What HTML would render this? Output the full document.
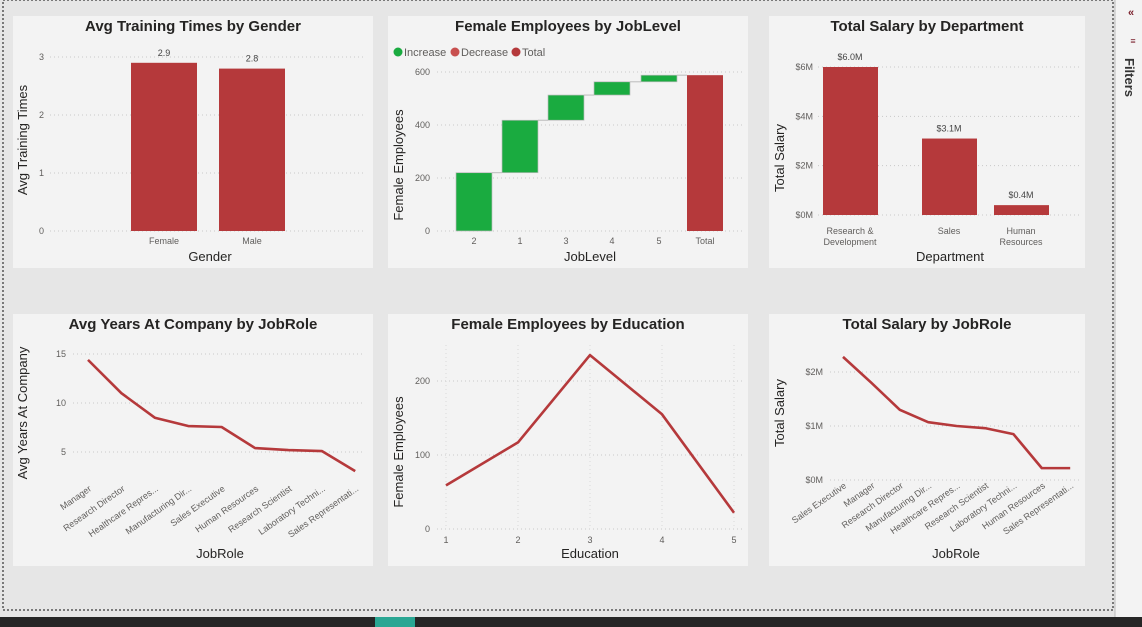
<!DOCTYPE html>
<html><head><meta charset="utf-8"><style>
body{margin:0;width:1142px;height:627px;overflow:hidden;background:#e6e6e6;font-family:"Liberation Sans",sans-serif;}
svg{position:absolute;left:0;top:0}
text{font-family:"Liberation Sans",sans-serif}
</style></head><body>
<svg id="s" width="1142" height="627">
<rect x="0" y="0" width="1142" height="627" fill="#e6e6e6"/>
<rect x="3" y="0" width="1110" height="610" fill="none" stroke="#555" stroke-width="1.5" stroke-dasharray="2,2"/>
<rect x="1115" y="0" width="27" height="617" fill="#f3f3f3"/>
<line x1="1115" y1="0" x2="1115" y2="617" stroke="#bbb"/>
<text x="1131" y="16" font-size="11" fill="#7a1f2b" text-anchor="middle" font-weight="bold">«</text>
<text x="1133" y="44" font-size="9" fill="#7a1f2b" text-anchor="middle">≡</text>
<text transform="translate(1125,58) rotate(90)" font-size="13" font-weight="bold" fill="#333">Filters</text>
<rect x="0" y="617" width="1142" height="10" fill="#262626"/>
<rect x="375" y="617" width="40" height="10" fill="#2aa693"/>
<g id="p1"><rect x="13" y="16" width="360" height="252" fill="#f3f3f3"/></g>
<g id="p2"><rect x="388" y="16" width="360" height="252" fill="#f3f3f3"/></g>
<g id="p3"><rect x="769" y="16" width="316" height="252" fill="#f3f3f3"/></g>
<g id="p4"><rect x="13" y="314" width="360" height="252" fill="#f3f3f3"/></g>
<g id="p5"><rect x="388" y="314" width="360" height="252" fill="#f3f3f3"/></g>
<g id="p6"><rect x="769" y="314" width="316" height="252" fill="#f3f3f3"/></g>
</svg>
<script>
// Chart data
const genders=["Female","Male"];
const trainingTimes=[2.9,2.8];
const trainTicks=[0,1,2,3];
const jobLevels=["2","1","3","4","5"];
const jobLevelFemale=[220,198,95,50,25];
const jlTicks=[0,200,400,600];
const departments=[["Research &","Development"],["Sales"],["Human","Resources"]];
const deptSalary=[6.0,3.1,0.4];
const deptTicks=[0,2,4,6];
const roles1=["Manager","Research Director","Healthcare Repres...","Manufacturing Dir...","Sales Executive","Human Resources","Research Scientist","Laboratory Techni...","Sales Representati..."];
const yearsAtCompany=[14.4,11.0,8.5,7.65,7.55,5.4,5.2,5.1,3.05];
const yearsTicks=[5,10,15];
const educations=["1","2","3","4","5"];
const eduFemale=[59,117,235,155,22];
const eduTicks=[0,100,200];
const roles2=["Sales Executive","Manager","Research Director","Manufacturing Dir...","Healthcare Repres...","Research Scientist","Laboratory Techni...","Human Resources","Sales Representati..."];
const roleSalary=[2.28,1.8,1.3,1.07,1.0,0.96,0.85,0.22,0.22];
const salTicks=[0,1,2];

const NS="http://www.w3.org/2000/svg";
function el(p,tag,a,txt){const e=document.createElementNS(NS,tag);for(const k in a)e.setAttribute(k,a[k]);if(txt!==undefined)e.textContent=txt;document.getElementById(p).appendChild(e);return e;}
function lin(d0,d1,r0,r1){return v=>r0+(v-d0)/(d1-d0)*(r1-r0);}
function title(p,x,y,t){const e=el(p,'text',{x:x,y:y,'font-size':15,'font-weight':'bold','text-anchor':'middle',fill:'#252423'},t);

}
function ytitle(p,x,y,t){const e=el(p,'text',{transform:`translate(${x},${y}) rotate(-90)`,'font-size':13,'text-anchor':'middle',fill:'#252423'},t);

}
function xtitle(p,x,y,t){const e=el(p,'text',{x:x,y:y,'font-size':13,'text-anchor':'middle',fill:'#252423'},t);

}
function grid(p,x0,x1,y){el(p,'line',{x1:x0,x2:x1,y1:y,y2:y,stroke:'#c8c8c8','stroke-dasharray':'1,3'});}
function ytick(p,x,y,t){const e=el(p,'text',{x:x,y:y+3,'font-size':9,'text-anchor':'end',fill:'#605e5c'},t);

}
function xtick(p,x,y,t){const e=el(p,'text',{x:x,y:y,'font-size':9,'text-anchor':'middle',fill:'#605e5c'},t);

}
const RED='#b5393b',GREEN='#1aab40';

// Chart 1
(function(){const p='p1';title(p,193,31,'Avg Training Times by Gender');ytitle(p,27,140,'Avg Training Times');xtitle(p,210,261,'Gender');
const y=lin(0,3,231,57);trainTicks.forEach(t=>{grid(p,50,365,y(t));ytick(p,44,y(t),t);});
const cx=[164,252];genders.forEach((g,i)=>{const b=el(p,'rect',{x:cx[i]-33,y:y(trainingTimes[i]),width:66,height:y(0)-y(trainingTimes[i]),fill:RED});


el(p,'text',{x:cx[i],y:y(trainingTimes[i])-7,'font-size':9,'text-anchor':'middle',fill:'#444'},trainingTimes[i].toFixed(1));xtick(p,cx[i],244,g);});})();

// Chart 2 waterfall
(function(){const p='p2';title(p,568,31,'Female Employees by JobLevel');ytitle(p,403,165,'Female Employees');xtitle(p,590,261,'JobLevel');
[[398,'Increase',GREEN],[455,'Decrease','#c8504f'],[516,'Total',RED]].forEach(l=>{el(p,'circle',{cx:l[0],cy:52,r:4.5,fill:l[2]});const t=el(p,'text',{x:l[0]+6,y:56,'font-size':11,fill:'#605e5c'},l[1]);

});
const y=lin(0,600,231,72);jlTicks.forEach(t=>{grid(p,437,742,y(t));ytick(p,430,y(t),t);});
const cxs=[474,520,566,612,659,705];let cum=0;
jobLevels.forEach((j,i)=>{const a=cum;cum+=jobLevelFemale[i];const b=el(p,'rect',{x:cxs[i]-18,y:y(cum),width:36,height:y(a)-y(cum),fill:GREEN,stroke:'#bbb','stroke-width':0.7});


el(p,'line',{x1:cxs[i]+18,x2:cxs[i+1]-18,y1:y(cum),y2:y(cum),stroke:'#bbb'});xtick(p,cxs[i],244,j);});
const t=el(p,'rect',{x:cxs[5]-18,y:y(cum),width:36,height:y(0)-y(cum),fill:RED});


xtick(p,cxs[5],244,'Total');})();

// Chart 3
(function(){const p='p3';title(p,927,31,'Total Salary by Department');ytitle(p,784,158,'Total Salary');xtitle(p,950,261,'Department');
const y=lin(0,6,215,67);deptTicks.forEach(t=>{grid(p,818,1080,y(t));ytick(p,813,y(t),'$'+t+'M');});
const cx=[850,949,1021];departments.forEach((d,i)=>{const b=el(p,'rect',{x:cx[i]-27,y:y(deptSalary[i]),width:55,height:y(0)-y(deptSalary[i]),fill:RED});


el(p,'text',{x:cx[i],y:y(deptSalary[i])-7,'font-size':9,'text-anchor':'middle',fill:'#444'},'$'+deptSalary[i].toFixed(1)+'M');
d.forEach((l,k)=>xtick(p,cx[i],234+k*11,l));});})();

function rotLabels(p,xs,labels,y){labels.forEach((l,i)=>{const t=el(p,'text',{transform:`translate(${xs[i]+4},${y}) rotate(-35)`,'font-size':9,'text-anchor':'end',fill:'#605e5c'},l);

});}
function line(p,xs,vals,y){const d=vals.map((v,i)=>(i?'L':'M')+xs[i]+','+y(v)).join(' ');const e=el(p,'path',{d:d,fill:'none',stroke:RED,'stroke-width':2.6,'stroke-linejoin':'round'});

}

// Chart 4
(function(){const p='p4';title(p,193,329,'Avg Years At Company by JobRole');ytitle(p,27,413,'Avg Years At Company');xtitle(p,220,558,'JobRole');
const y=lin(0,15,501,354);yearsTicks.forEach(t=>{grid(p,73,365,y(t));ytick(p,66,y(t),t);});
const xs=roles1.map((r,i)=>88+i*33.4);line(p,xs,yearsAtCompany,y);rotLabels(p,xs,roles1,490);})();

// Chart 5
(function(){const p='p5';title(p,568,329,'Female Employees by Education');ytitle(p,403,452,'Female Employees');xtitle(p,590,558,'Education');
const y=lin(0,200,529,381);eduTicks.forEach(t=>{grid(p,437,742,y(t));ytick(p,430,y(t),t);});
const xs=educations.map((e,i)=>446+i*72);xs.forEach((x,i)=>{el(p,'line',{x1:x,x2:x,y1:345,y2:529,stroke:'#d8d8d8','stroke-dasharray':'1,3'});xtick(p,x,543,educations[i]);});
line(p,xs,eduFemale,y);})();

// Chart 6
(function(){const p='p6';title(p,927,329,'Total Salary by JobRole');ytitle(p,784,413,'Total Salary');xtitle(p,956,558,'JobRole');
const y=lin(0,2,480,372);salTicks.forEach(t=>{grid(p,830,1080,y(t));ytick(p,823,y(t),'$'+t+'M');});
const xs=roles2.map((r,i)=>843+i*28.4);line(p,xs,roleSalary,y);rotLabels(p,xs,roles2,487);})();
</script>
</body></html>
